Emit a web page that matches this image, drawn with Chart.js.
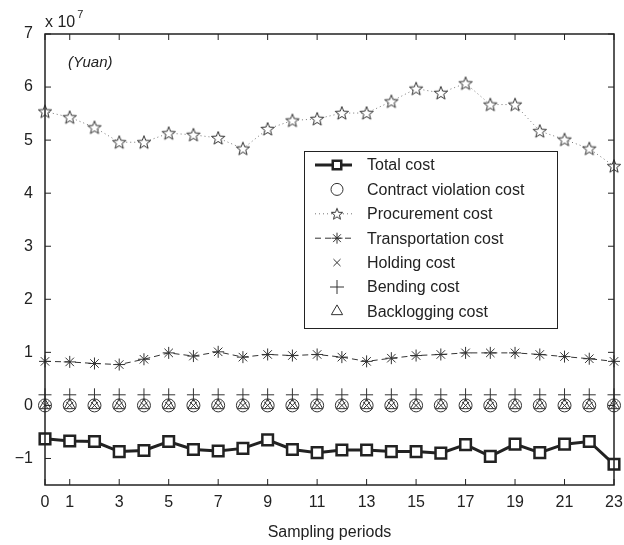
<!DOCTYPE html>
<html>
<head>
<meta charset="utf-8">
<script src="https://cdn.jsdelivr.net/npm/chart.js@4/dist/chart.umd.min.js"></script>
<style>
  html, body { margin: 0; padding: 0; background: #fff; }
  #costChart { display: block; }
</style>
</head>
<body>
<canvas id="costChart" width="624" height="545"></canvas>
<script>
// Sampling periods 0..23, values in units of 10^7 Yuan
const periods = [0, 1, 2, 3, 4, 5, 6, 7, 8, 9, 10, 11, 12, 13, 14, 15, 16, 17, 18, 19, 20, 21, 22, 23];
const xTickValues = [0, 1, 3, 5, 7, 9, 11, 13, 15, 17, 19, 21, 23];
const yTickValues = [-1, 0, 1, 2, 3, 4, 5, 6, 7];

const totalCost = [-0.63, -0.67, -0.68, -0.87, -0.85, -0.68, -0.83, -0.86, -0.81, -0.65, -0.83, -0.89,
  -0.84, -0.84, -0.87, -0.87, -0.90, -0.74, -0.96, -0.73, -0.89, -0.73, -0.68, -1.11];
const contractViolationCost = [0, 0, 0, 0, 0, 0, 0, 0, 0, 0, 0, 0, 0, 0, 0, 0, 0, 0, 0, 0, 0, 0, 0, 0];
const procurementCost = [5.54, 5.43, 5.24, 4.96, 4.96, 5.13, 5.10, 5.04, 4.84, 5.21, 5.37, 5.40,
  5.51, 5.51, 5.73, 5.97, 5.89, 6.07, 5.67, 5.67, 5.17, 5.01, 4.84, 4.51];
const transportationCost = [0.83, 0.82, 0.79, 0.77, 0.87, 0.99, 0.93, 1.01, 0.91, 0.96, 0.94, 0.96,
  0.91, 0.83, 0.89, 0.94, 0.96, 0.99, 0.99, 0.99, 0.96, 0.92, 0.88, 0.83];
const holdingCost = [0, 0, 0, 0, 0, 0, 0, 0, 0, 0, 0, 0, 0, 0, 0, 0, 0, 0, 0, 0, 0, 0, 0, 0];
const bendingCost = [0.2, 0.2, 0.2, 0.2, 0.2, 0.2, 0.2, 0.2, 0.2, 0.2, 0.2, 0.2,
  0.2, 0.2, 0.2, 0.2, 0.2, 0.2, 0.2, 0.2, 0.2, 0.2, 0.2, 0.2];
const backloggingCost = [0, 0, 0, 0, 0, 0, 0, 0, 0, 0, 0, 0, 0, 0, 0, 0, 0, 0, 0, 0, 0, 0, 0, 0];

const FONT = "'Liberation Sans', Arial, Helvetica, sans-serif";
const INK = "#222";

// open five-point star, like matlab's 'p' marker
function makeStar(size) {
  const c = document.createElement("canvas");
  c.width = size; c.height = size;
  const g = c.getContext("2d");
  const cx = size / 2, cy = size / 2 + 0.5, ro = size / 2 - 1, ri = ro * 0.42;
  g.beginPath();
  for (let i = 0; i < 10; i++) {
    const r = i % 2 ? ri : ro;
    const a = -Math.PI / 2 + i * Math.PI / 5;
    g.lineTo(cx + r * Math.cos(a), cy + r * Math.sin(a));
  }
  g.closePath();
  g.fillStyle = "#fff";
  g.fill();
  g.strokeStyle = "#333";
  g.lineWidth = 1;
  g.stroke();
  return c;
}
const starImg = makeStar(16);
const starSmall = makeStar(14);

function pts(values) {
  return values.map((v, i) => ({ x: periods[i], y: v }));
}

const datasets = [
  { label: "Total cost", data: pts(totalCost), borderColor: INK, borderWidth: 3,
    pointStyle: "rect", pointRadius: 7.5, pointBorderWidth: 2.5, pointBackgroundColor: "#fff",
    pointBorderColor: INK, showLine: true, legendRadius: 6 },
  { label: "Contract violation cost", data: pts(contractViolationCost), showLine: false,
    pointStyle: "circle", pointRadius: 6.5, pointBorderWidth: 1, pointBorderColor: "#333",
    pointBackgroundColor: "rgba(0,0,0,0)", legendRadius: 6 },
  { label: "Procurement cost", data: pts(procurementCost), showLine: true, borderColor: "#777",
    borderWidth: 1, borderDash: [1, 3], pointStyle: starImg, legendStyle: starSmall },
  { label: "Transportation cost", data: pts(transportationCost), showLine: true, borderColor: "#333",
    borderWidth: 1, borderDash: [6, 4], pointStyle: "star", pointRadius: 6, pointBorderWidth: 1,
    pointBorderColor: "#333", legendRadius: 5.5 },
  { label: "Holding cost", data: pts(holdingCost), showLine: false,
    pointStyle: "crossRot", pointRadius: 5, pointBorderWidth: 1, pointBorderColor: "#333", legendRadius: 5 },
  { label: "Bending cost", data: pts(bendingCost), showLine: false,
    pointStyle: "cross", pointRadius: 6.5, pointBorderWidth: 1, pointBorderColor: "#333", legendRadius: 7 },
  { label: "Backlogging cost", data: pts(backloggingCost), showLine: false,
    pointStyle: "triangle", pointRadius: 6.5, pointBorderWidth: 1, pointBorderColor: "#333",
    pointBackgroundColor: "rgba(0,0,0,0)", legendRadius: 6.5 }
];
datasets.forEach(d => { d.clip = false; d.fill = false; d.tension = 0; });

// box, inward ticks, exponent, unit note and in-plot legend
const framePlugin = {
  id: "frame",
  afterDraw(chart) {
    const { ctx, chartArea: a, scales } = chart;
    ctx.save();
    ctx.strokeStyle = INK;
    ctx.lineWidth = 1.5;
    ctx.strokeRect(a.left, a.top, a.right - a.left, a.bottom - a.top);

    ctx.lineWidth = 1;
    const tl = 6;
    ctx.beginPath();
    xTickValues.forEach(v => {
      const px = scales.x.getPixelForValue(v);
      ctx.moveTo(px, a.bottom); ctx.lineTo(px, a.bottom - tl);
      ctx.moveTo(px, a.top); ctx.lineTo(px, a.top + tl);
    });
    yTickValues.forEach(v => {
      const py = scales.y.getPixelForValue(v);
      ctx.moveTo(a.left, py); ctx.lineTo(a.left + tl, py);
      ctx.moveTo(a.right, py); ctx.lineTo(a.right - tl, py);
    });
    ctx.stroke();

    // exponent label
    ctx.fillStyle = INK;
    ctx.textBaseline = "alphabetic";
    ctx.textAlign = "left";
    ctx.font = "16px " + FONT;
    ctx.fillText("x 10", a.left, a.top - 7);
    const w = ctx.measureText("x 10").width;
    ctx.font = "11px " + FONT;
    ctx.fillText("7", a.left + w + 2, a.top - 16);

    ctx.font = "italic 15px " + FONT;
    ctx.fillText("(Yuan)", a.left + 23, a.top + 33);

    // legend
    const box = { x: 304, y: 151, w: 253, h: 177 };
    ctx.fillStyle = "#fff";
    ctx.fillRect(box.x, box.y, box.w, box.h);
    ctx.strokeStyle = INK;
    ctx.lineWidth = 1;
    ctx.strokeRect(box.x + 0.5, box.y + 0.5, box.w, box.h);
    const mx = 337, lx0 = 315, lx1 = 352, tx = 367;
    chart.data.datasets.forEach((d, i) => {
      const y = 165 + i * 24.4;
      if (d.showLine) {
        ctx.save();
        ctx.strokeStyle = d.borderColor;
        ctx.lineWidth = d.borderWidth;
        ctx.setLineDash(d.borderDash || []);
        ctx.beginPath();
        ctx.moveTo(lx0, y); ctx.lineTo(lx1, y);
        ctx.stroke();
        ctx.restore();
      }
      ctx.save();
      ctx.strokeStyle = d.pointBorderColor || "#333";
      ctx.fillStyle = d.pointBackgroundColor || "#fff";
      ctx.lineWidth = d.pointBorderWidth || 1;
      Chart.helpers.drawPoint(ctx, { pointStyle: d.legendStyle || d.pointStyle,
        radius: d.legendRadius || 6, rotation: 0, borderWidth: ctx.lineWidth }, mx, y);
      ctx.restore();
      ctx.fillStyle = INK;
      ctx.font = "16px " + FONT;
      ctx.textBaseline = "middle";
      ctx.fillText(d.label, tx, y + 1);
    });
    ctx.restore();
  }
};

new Chart(document.getElementById("costChart").getContext("2d"), {
  type: "line",
  data: { datasets },
  options: {
    responsive: false,
    animation: false,
    layout: { padding: { top: 34, right: 5, left: 0, bottom: 0 } },
    plugins: { legend: { display: false }, tooltip: { enabled: false } },
    scales: {
      x: {
        type: "linear", min: 0, max: 23,
        afterBuildTicks: s => { s.ticks = xTickValues.map(v => ({ value: v })); },
        afterFit: s => { s.height = 60; },
        grid: { display: false },
        border: { display: false },
        ticks: { color: INK, font: { family: FONT, size: 16 }, padding: 0, maxRotation: 0, autoSkip: false },
        title: { display: true, text: "Sampling periods", color: INK,
          font: { family: FONT, size: 16 }, padding: { top: 0, bottom: 3 } }
      },
      y: {
        type: "linear", min: -1.5, max: 7,
        afterBuildTicks: s => { s.ticks = yTickValues.map(v => ({ value: v })); },
        afterFit: s => { s.width = 45; },
        grid: { display: false },
        border: { display: false },
        ticks: { color: INK, font: { family: FONT, size: 16 }, padding: 4,
          callback: v => (v < 0 ? "\u2212" + Math.abs(v) : String(v)) }
      }
    }
  },
  plugins: [framePlugin]
});
</script>
</body>
</html>
